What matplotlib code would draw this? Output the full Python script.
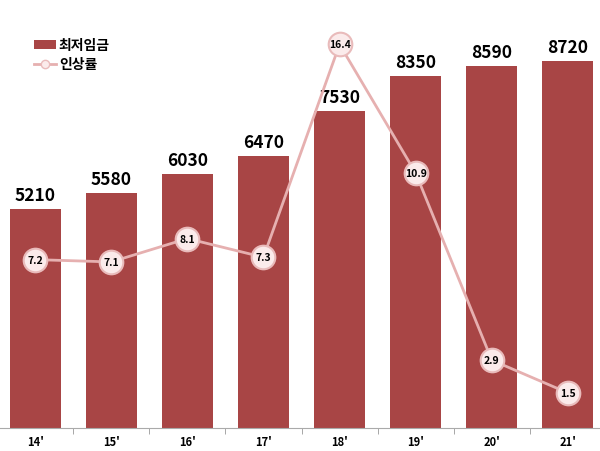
import matplotlib
matplotlib.use("Agg")
import matplotlib.pyplot as plt
from matplotlib.lines import Line2D
from matplotlib.patches import Patch

plt.rcParams['font.family'] = ['Noto Sans CJK KR', 'DejaVu Sans']

# data
years = ["14'", "15'", "16'", "17'", "18'", "19'", "20'", "21'"]
wage = [5210, 5580, 6030, 6470, 7530, 8350, 8590, 8720]
rate = [7.2, 7.1, 8.1, 7.3, 16.4, 10.9, 2.9, 1.5]

bar_color = "#A84545"
line_color = "#E6B0B0"

fig = plt.figure(figsize=(6, 4.52), dpi=100)
ax = fig.add_axes([-3 / 600, 23 / 452, 609 / 600, 421 / 452])

x = list(range(len(years)))
ax.bar(x, wage, width=0.67, color=bar_color, zorder=2)
for xi, v in zip(x, wage):
    ax.text(xi, v + 120, str(v), ha='center', va='bottom',
            fontsize=12.5, fontweight='bold', color='black')

ax.set_xlim(-0.5, len(years) - 0.5)
ax.set_ylim(0, 10000)
ax.set_yticks([])
ax.set_xticks(x)
ax.set_xticklabels(years, fontsize=8, fontweight='bold')
ax.set_xticks([i + 0.5 for i in x[:-1]], minor=True)
ax.tick_params(axis='x', which='major', length=0, pad=5)
ax.tick_params(axis='x', which='minor', length=4, color='#999999', direction='out')
for s in ['top', 'right', 'left']:
    ax.spines[s].set_visible(False)
ax.spines['bottom'].set_color('#aaaaaa')

ax2 = ax.twinx()
ax2.set_ylim(0, 18)
ax2.plot(x, rate, color=line_color, lw=2, zorder=3,
         marker='o', markersize=17, markerfacecolor='#FBEBEB',
         markeredgecolor='#E9BBBB', markeredgewidth=1.5)
for xi, r in zip(x, rate):
    ax2.text(xi, r, f"{r}", ha='center', va='center',
             fontsize=7.5, fontweight='bold', color='black', zorder=4)
ax2.set_yticks([])
for s in ['top', 'right', 'left', 'bottom']:
    ax2.spines[s].set_visible(False)

handles = [
    Patch(facecolor=bar_color, label='최저임금'),
    Line2D([0], [0], color=line_color, lw=2, marker='o', markersize=6,
           markerfacecolor='#FBEBEB', markeredgecolor='#E9BBBB', label='인상률'),
]
leg = ax2.legend(handles=handles, loc='upper left', bbox_to_anchor=(0.04, 0.955),
                 frameon=False, prop={'weight': 'bold', 'size': 10},
                 handlelength=1.6, handleheight=0.6, labelspacing=0.35,
                 handletextpad=0.2)

fig.savefig("out.png", dpi=100)
